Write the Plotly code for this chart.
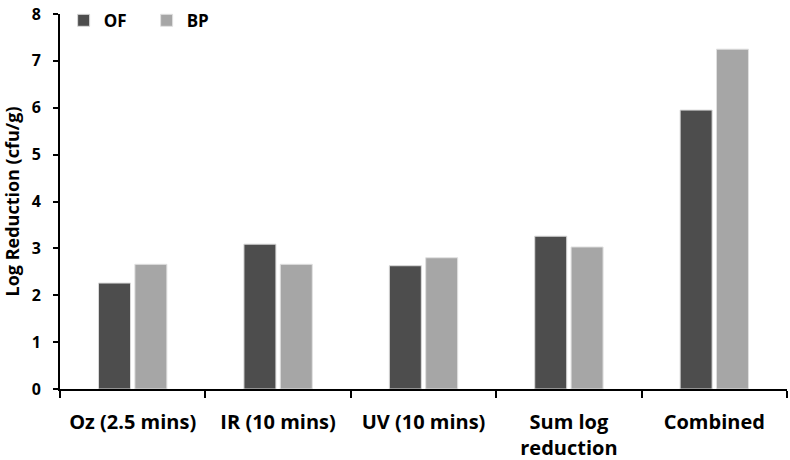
import plotly.graph_objects as go

categories = ["Oz (2.5 mins)", "IR (10 mins)", "UV (10 mins)", "Sum log<br>reduction", "Combined"]
of_values = [2.26, 3.09, 2.63, 3.26, 5.95]
bp_values = [2.66, 2.66, 2.80, 3.03, 7.25]
y_ticks = [0, 1, 2, 3, 4, 5, 6, 7, 8]

FONT = "Open Sans"

fig = go.Figure()
fig.add_trace(go.Bar(name="OF", x=categories, y=of_values,
                     marker=dict(color="#4d4d4d", line=dict(color="#d9d9d9", width=1))))
fig.add_trace(go.Bar(name="BP", x=categories, y=bp_values,
                     marker=dict(color="#a6a6a6", line=dict(color="#e0e0e0", width=1))))

fig.update_layout(
    width=790, height=460,
    margin=dict(l=60, r=3, t=7, b=71),
    paper_bgcolor="white", plot_bgcolor="white",
    barmode="group", bargap=0.5, bargroupgap=0.12,
    font=dict(family=FONT, size=16, color="black"),
    showlegend=True,
    legend=dict(orientation="h", x=0.005, y=1.03, xanchor="left", yanchor="top",
                font=dict(family=FONT, size=17, color="black", weight="bold"),
                bgcolor="rgba(0,0,0,0)", traceorder="normal",
                entrywidth=38),
)
fig.update_xaxes(
    automargin=False,
    showline=True, linecolor="black", linewidth=2,
    ticks="outside", tickson="boundaries", ticklen=7, tickwidth=1.5, tickcolor="black",
    tickfont=dict(family=FONT, size=20, color="black", weight="bold"),
    ticklabelstandoff=14,
    showgrid=False, zeroline=False,
)
fig.update_yaxes(
    automargin=False,
    range=[0, 8], tickvals=y_ticks,
    showline=True, linecolor="black", linewidth=2,
    ticks="outside", ticklen=5, tickwidth=1.5, tickcolor="black",
    tickfont=dict(family=FONT, size=16, color="black", weight="bold"),
    ticklabelstandoff=9,
    title=dict(text="Log Reduction (cfu/g)", font=dict(family=FONT, size=18, color="black", weight="bold"), standoff=9),
    showgrid=False, zeroline=False,
)

fig.write_html("out.html", config={"displayModeBar": False},
               post_script="document.body.style.margin='0';document.body.style.padding='0';")
